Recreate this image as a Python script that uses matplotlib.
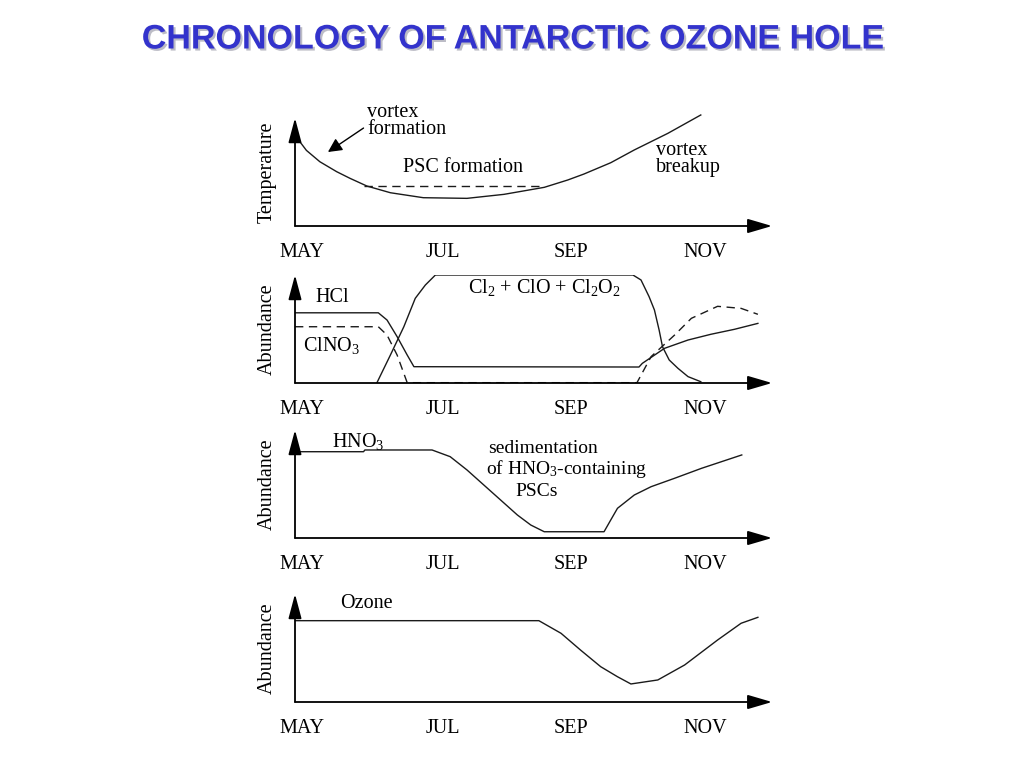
import matplotlib
matplotlib.use("Agg")
import matplotlib.pyplot as plt
import matplotlib.patheffects as pe

plt.rcParams['font.family'] = ['Liberation Serif', 'DejaVu Serif']
plt.rcParams['mathtext.fontset'] = 'custom'
plt.rcParams['mathtext.rm'] = 'Liberation Serif'
plt.rcParams['mathtext.it'] = 'Liberation Serif:italic'

# x in months after May (MAY=0, JUL=2, SEP=4, NOV=6), y in relative units
months = ['MAY', 'JUL', 'SEP', 'NOV']
month_pos = [0, 2.1, 4.0, 6.0]

# temperature
temp_x = [-0.1, 0.07, 0.27, 0.52, 0.72, 0.97, 1.32, 1.81, 2.46, 3.01, 3.61, 3.96, 4.20, 4.60, 4.95, 5.45, 5.94]
temp_y = [0.84, 0.70, 0.595, 0.503, 0.441, 0.370, 0.308, 0.262, 0.256, 0.293, 0.358, 0.426, 0.481, 0.586, 0.704, 0.858, 1.028]
psc_x = [0.92, 3.6]
psc_y = [0.37, 0.37]

# chlorine species
hcl_x = [-0.1, 1.14, 1.27, 1.42, 1.57, 1.67, 5.02, 5.07, 5.40, 5.75, 6.09, 6.44, 6.79]
hcl_y = [0.65, 0.65, 0.583, 0.429, 0.259, 0.151, 0.148, 0.182, 0.321, 0.398, 0.451, 0.497, 0.552]
clno3_x = [-0.1, 1.14, 1.27, 1.42, 1.57, 4.99, 5.20, 5.55, 5.80, 6.19, 6.54, 6.79]
clno3_y = [0.521, 0.521, 0.444, 0.259, 0.003, 0.003, 0.244, 0.444, 0.599, 0.710, 0.691, 0.636]
clx_x = [1.12, 1.32, 1.52, 1.69, 1.84, 1.99, 4.93, 5.05, 5.17, 5.25, 5.32, 5.37, 5.47, 5.60, 5.75, 5.94]
clx_y = [0.003, 0.259, 0.521, 0.784, 0.907, 1.0, 1.0, 0.954, 0.80, 0.676, 0.49, 0.336, 0.213, 0.136, 0.059, 0.012]

# nitric acid
hno3_x = [-0.1, 0.92, 0.94, 1.94, 2.21, 2.46, 2.71, 2.96, 3.21, 3.41, 3.61, 4.50, 4.60, 4.70, 4.95, 5.20, 5.55, 5.95, 6.55]
hno3_y = [0.799, 0.799, 0.815, 0.815, 0.753, 0.630, 0.491, 0.352, 0.213, 0.120, 0.058, 0.058, 0.167, 0.275, 0.398, 0.475, 0.553, 0.645, 0.769]

# ozone
o3_x = [-0.1, 3.53, 3.86, 4.15, 4.45, 4.70, 4.90, 5.30, 5.70, 6.19, 6.54, 6.79]
o3_y = [0.753, 0.753, 0.636, 0.481, 0.327, 0.234, 0.167, 0.204, 0.343, 0.574, 0.729, 0.784]

W, H = 1024, 768
fig = plt.figure(figsize=(10.24, 7.68), dpi=100)

fig.text(0.5, 1 - 40 / H, 'CHRONOLOGY OF ANTARCTIC OZONE HOLE',
         ha='center', va='center', fontsize=24.5, fontweight='bold',
         family='Liberation Sans', color='#3333CC',
         path_effects=[pe.withSimplePatchShadow(offset=(1.5, -1.5),
                                                shadow_rgbFace='#9090a0', alpha=0.6)])

bottoms = [226, 383, 538, 702]
ylabels = ['Temperature', 'Abundance', 'Abundance', 'Abundance']
axes = []
for b, lab in zip(bottoms, ylabels):
    ax = fig.add_axes([295 / W, 1 - b / H, 477 / W, 108 / H])
    ax.set_xlim(-0.1, 7.0)
    ax.set_ylim(0, 1)
    for s in ax.spines.values():
        s.set_visible(False)
    ax.set_yticks([])
    ax.set_xticks(month_pos, months)
    ax.tick_params(axis='x', length=0, pad=12, labelsize=14.5)
    ax.set_ylabel(lab, fontsize=14.5, labelpad=13)
    ax.annotate('', xy=(1, 0), xytext=(0, 0), xycoords='axes fraction',
                arrowprops=dict(arrowstyle='-|>,head_length=0.75,head_width=0.22',
                                mutation_scale=20, lw=1.3, color='black',
                                shrinkA=0, shrinkB=0))
    ax.annotate('', xy=(0, 1), xytext=(0, 0), xycoords='axes fraction',
                arrowprops=dict(arrowstyle='-|>,head_length=0.75,head_width=0.2',
                                mutation_scale=20, lw=1.3, color='black',
                                shrinkA=0, shrinkB=0))
    axes.append(ax)

lc = '#1a1a1a'
lw = 1.0
ax1, ax2, ax3, ax4 = axes

ax1.plot(temp_x, temp_y, color=lc, lw=lw, clip_on=False)
ax1.plot(psc_x, psc_y, color=lc, lw=lw, dashes=(6, 4))
ax1.annotate('', xy=(0.39, 0.685), xytext=(0.92, 0.907),
             arrowprops=dict(arrowstyle='-|>,head_length=0.6,head_width=0.3',
                             mutation_scale=14, lw=1.0, color='black',
                             shrinkA=0, shrinkB=0),
             annotation_clip=False)
ax1.text(0.975, 0.97, 'vortex\nformation', fontsize=14.5, va='center',
         linespacing=0.85)
ax1.text(1.51, 0.546, 'PSC formation', fontsize=14.5, va='center')
ax1.text(5.27, 0.62, 'vortex\nbreakup', fontsize=14.5, va='center', linespacing=0.85)

ax2.plot(hcl_x, hcl_y, color=lc, lw=lw)
ax2.plot(clno3_x, clno3_y, color=lc, lw=lw, dashes=(6, 4))
ax2.plot(clx_x, clx_y, color=lc, lw=lw)
ax2.text(0.2, 0.79, 'HCl', fontsize=14.5, va='center')
ax2.text(0.02, 0.35, r'ClNO$_3$', fontsize=14.5, va='center')
ax2.text(2.47, 0.88, r'Cl$_2$ + ClO + Cl$_2$O$_2$', fontsize=14.5, va='center')

ax3.plot(hno3_x, hno3_y, color=lc, lw=lw)
ax3.text(0.45, 0.89, r'HNO$_3$', fontsize=14.5, va='center')
ax3.text(2.77, 0.83, 'sedimentation', fontsize=14, va='center')
ax3.text(2.74, 0.635, r'of HNO$_3$-containing', fontsize=14, va='center')
ax3.text(3.18, 0.43, 'PSCs', fontsize=14, va='center')

ax4.plot(o3_x, o3_y, color=lc, lw=lw)
ax4.text(0.57, 0.91, 'Ozone', fontsize=14.5, va='center')

fig.savefig('out.png', dpi=100)
